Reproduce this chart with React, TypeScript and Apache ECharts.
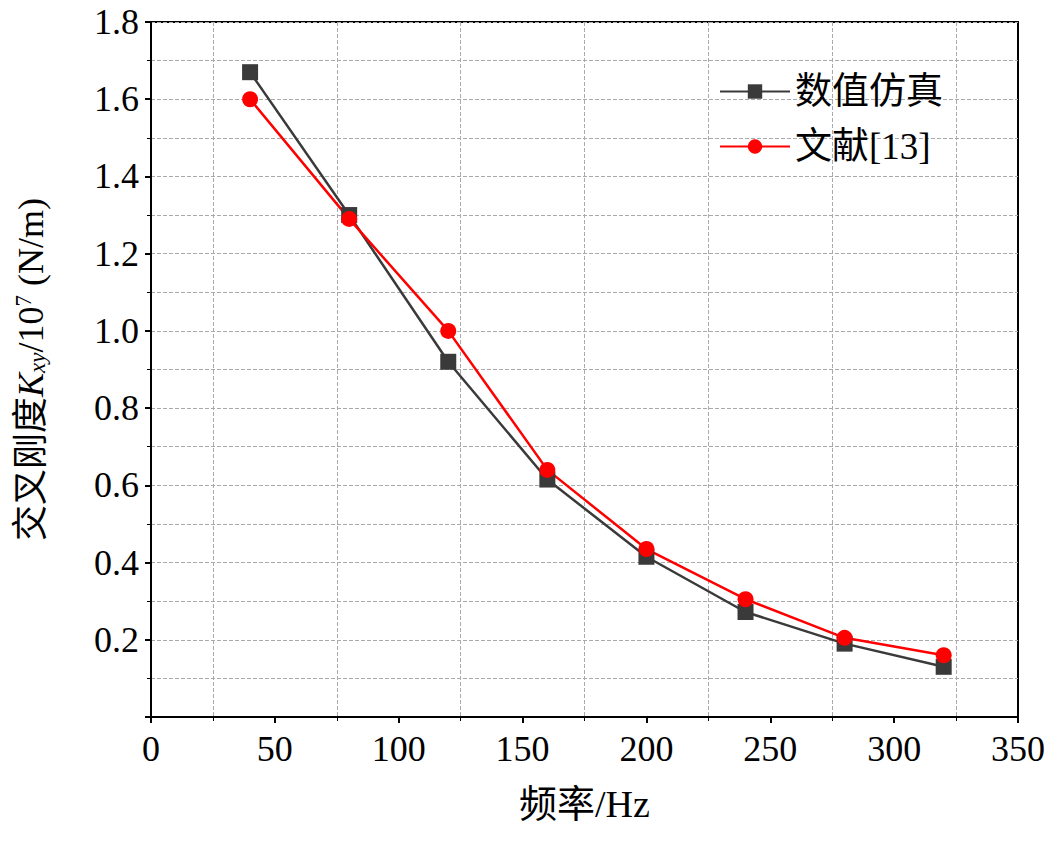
import React, { useEffect, useRef } from "react";
import * as echarts from "echarts";

const freq = [40, 80, 120, 160, 200, 240, 280, 320];
const simValues = [1.67, 1.3, 0.92, 0.615, 0.415, 0.272, 0.19, 0.13];
const litValues = [1.6, 1.29, 1.0, 0.64, 0.435, 0.305, 0.205, 0.16];
const seriesNames = ["数值仿真", "文献[13]"];

const FONT = "'Liberation Serif', 'Times New Roman', 'Noto Sans CJK SC', serif";

export default function App() {
  const ref = useRef<HTMLDivElement>(null);
  useEffect(() => {
    const chart = echarts.init(ref.current!, null, { renderer: "svg" });
    const dashed = { show: true, lineStyle: { color: "#aaa", type: "dashed", width: 1 } };
    chart.setOption({
      animation: false,
      textStyle: { fontFamily: FONT },
      grid: { left: 151, right: 45, top: 22, bottom: 124, show: true, borderColor: "#000", borderWidth: 2 },
      legend: {
        right: 115,
        top: 68,
        orient: "vertical",
        itemWidth: 70,
        itemHeight: 18,
        itemGap: 18,
        textStyle: { fontSize: 37, fontFamily: FONT, color: "#000" },
        data: seriesNames,
      },
      xAxis: {
        type: "value",
        min: 0,
        max: 350,
        interval: 50,
        name: "频率/Hz",
        nameLocation: "middle",
        nameGap: 68,
        nameTextStyle: { fontSize: 38, color: "#000", fontFamily: FONT },
        axisLine: { lineStyle: { color: "#000", width: 2 } },
        axisTick: { show: true, length: 6, lineStyle: { color: "#000", width: 2 } },
        axisLabel: { fontSize: 36, color: "#000", margin: 14, fontFamily: FONT },
        splitLine: { show: false },
        minorTick: { show: true, splitNumber: 2, length: 4, lineStyle: { color: "#000" } },
        minorSplitLine: dashed,
      },
      yAxis: {
        type: "value",
        min: 0,
        max: 1.8,
        interval: 0.2,
        name: "{a|交叉刚度}{i|K}{s|xy}{a|/10}{sup|7}{a| (N/m)}",
        nameLocation: "middle",
        nameRotate: 90,
        nameGap: 102,
        nameTextStyle: {
          color: "#000",
          rich: {
            a: { fontSize: 36, fontFamily: FONT, color: "#000" },
            i: { fontSize: 36, fontFamily: FONT, fontStyle: "italic", color: "#000" },
            s: { fontSize: 23, fontFamily: FONT, fontStyle: "italic", color: "#000", padding: [14, 0, 0, 0] },
            sup: { fontSize: 23, fontFamily: FONT, color: "#000", padding: [0, 0, 14, 0] },
          },
        },
        axisLine: { show: true, lineStyle: { color: "#000", width: 2 } },
        axisTick: { show: true, length: 6, lineStyle: { color: "#000", width: 2 } },
        axisLabel: {
          fontSize: 36,
          color: "#000",
          margin: 12,
          fontFamily: FONT,
          formatter: (v: number) => (v === 0 ? "" : v.toFixed(1)),
        },
        splitLine: dashed,
        minorTick: { show: true, splitNumber: 2, length: 4, lineStyle: { color: "#000" } },
        minorSplitLine: dashed,
      },
      series: [
        {
          name: seriesNames[0],
          type: "line",
          data: freq.map((f, i) => [f, simValues[i]]),
          symbol: "rect",
          symbolSize: 16,
          itemStyle: { color: "#3a3a3a" },
          lineStyle: { color: "#3a3a3a", width: 2.5 },
        },
        {
          name: seriesNames[1],
          type: "line",
          data: freq.map((f, i) => [f, litValues[i]]),
          symbol: "circle",
          symbolSize: 16,
          itemStyle: { color: "#ff0000" },
          lineStyle: { color: "#ff0000", width: 2.5 },
        },
      ],
    });
    return () => chart.dispose();
  }, []);
  return <div ref={ref} style={{ position: "absolute", left: 0, top: 0, width: 1063, height: 841, background: "#fff" }} />;
}
